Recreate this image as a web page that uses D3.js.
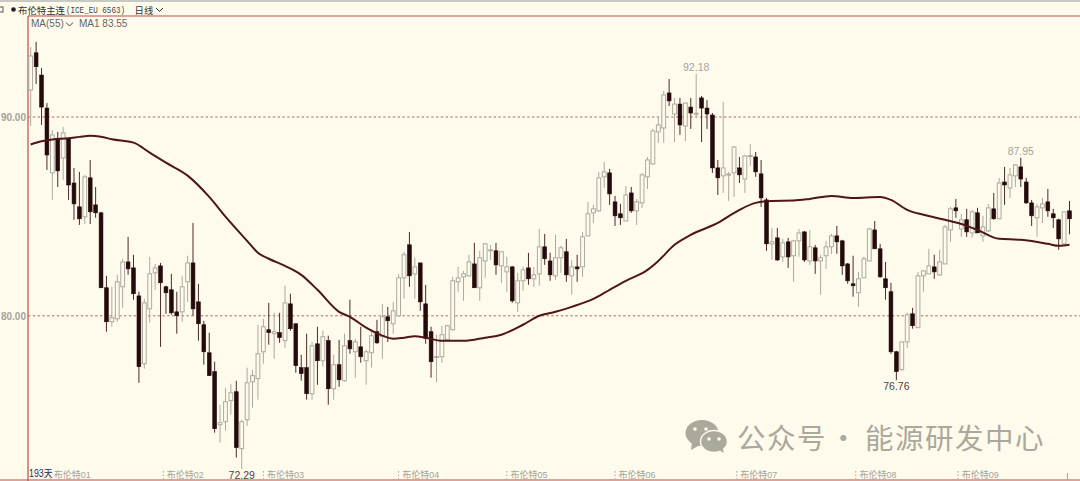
<!DOCTYPE html>
<html><head><meta charset="utf-8">
<script src="https://cdn.jsdelivr.net/npm/d3@7"></script>
<style>html,body{margin:0;padding:0;background:#FFFBEC;overflow:hidden}svg{display:block}
text{font-family:"Liberation Sans","Noto Sans CJK SC",sans-serif}</style></head><body>
<svg id="c" width="1080" height="481"></svg>
<script>
const opens=[91.36,93.23,92.11,90.45,87.19,88.90,87.94,88.90,86.68,85.48,84.98,86.94,85.58,85.18,81.41,79.70,79.85,81.46,82.71,82.41,81.00,77.59,80.35,82.16,82.51,81.46,81.31,80.20,80.20,81.71,82.66,80.70,79.55,78.14,77.19,74.52,74.67,75.73,76.18,73.32,74.77,76.68,76.84,78.19,79.30,79.10,79.15,78.75,80.60,79.60,77.39,77.39,76.08,78.59,77.74,78.75,76.33,77.54,76.73,78.75,78.19,78.44,77.74,78.14,79.20,78.95,79.95,79.60,80.00,81.91,83.57,82.11,82.66,80.60,79.20,77.90,77.94,78.80,79.30,81.71,81.96,82.01,82.61,81.41,82.76,83.28,83.27,82.51,82.21,82.46,80.65,81.76,82.41,81.86,82.11,83.47,82.76,82.01,82.92,83.22,82.01,82.46,82.46,84.02,85.18,85.28,86.99,87.19,85.73,85.13,84.77,86.18,85.28,85.68,86.99,87.64,89.25,89.45,91.21,90.15,90.65,89.55,90.50,90.15,90.96,90.45,90.10,87.44,87.04,87.09,87.19,87.44,86.88,88.02,87.99,87.14,85.83,83.62,83.92,82.96,83.72,83.02,83.77,84.22,82.76,83.42,82.76,83.02,83.47,84.02,83.77,82.61,81.61,81.16,81.91,82.76,84.32,83.37,81.86,81.21,78.19,77.29,78.69,80.10,79.40,82.01,82.11,82.46,82.06,82.61,84.32,85.43,84.37,84.83,84.17,85.18,84.02,84.27,85.38,84.88,86.73,86.43,87.04,87.49,86.73,85.68,84.93,85.43,85.73,85.13,84.83,83.62,85.28];
const highs=[93.52,93.78,92.46,90.70,89.35,89.25,89.50,88.95,87.44,87.24,87.09,87.84,86.48,85.23,82.01,81.46,82.06,82.87,83.97,83.07,81.21,80.86,82.97,82.61,82.66,81.51,82.11,81.21,82.01,83.02,84.67,81.61,79.75,79.15,77.69,75.53,76.38,76.58,76.73,74.77,77.39,77.29,79.55,79.85,80.65,80.15,80.15,81.51,81.11,79.60,78.04,79.10,78.69,79.45,79.25,79.00,78.04,78.79,79.10,80.81,78.85,79.45,78.29,79.25,79.80,80.60,80.45,80.70,82.11,83.22,84.22,82.92,82.66,81.56,79.45,79.05,79.50,79.55,81.96,82.46,82.26,83.07,83.67,83.27,83.67,83.57,83.67,83.22,82.97,82.51,82.16,82.46,83.17,82.46,84.37,84.12,83.17,84.07,83.52,83.87,82.81,83.07,84.22,85.73,85.58,87.24,87.74,87.39,86.03,85.63,86.53,86.48,85.88,87.19,87.99,89.40,90.00,91.31,91.91,90.96,90.96,90.70,90.96,92.18,91.06,90.85,90.20,87.84,90.75,87.24,88.54,87.99,88.09,88.64,88.24,87.84,85.93,84.42,84.42,83.87,83.92,83.82,84.37,84.27,84.32,83.57,83.07,83.77,84.12,84.52,83.82,82.66,83.02,82.21,82.97,84.42,84.77,83.62,82.71,81.66,78.24,78.69,80.15,80.40,82.21,82.31,83.37,83.07,83.32,84.57,85.48,85.88,85.13,85.38,85.33,85.43,85.03,85.63,86.18,86.94,87.49,87.44,87.64,87.95,86.94,85.83,85.63,85.93,86.38,85.38,84.88,85.23,85.78];
const lows=[89.55,91.66,89.60,87.34,85.83,86.48,86.84,85.83,84.83,84.57,84.62,84.62,84.93,81.41,79.20,79.45,79.70,80.40,82.06,80.81,76.63,77.34,79.65,81.31,78.44,80.10,80.05,79.10,79.70,80.70,80.00,78.75,77.54,76.99,74.12,73.62,74.22,75.03,72.87,72.29,74.47,75.38,75.78,77.59,78.55,77.84,78.64,78.39,79.25,77.14,76.74,75.78,75.78,76.53,77.44,75.53,75.78,76.43,76.68,78.09,76.89,77.64,76.53,77.39,78.59,77.84,78.69,79.10,79.95,80.86,81.46,80.86,80.25,78.59,76.89,76.65,77.64,78.75,79.25,81.21,80.75,81.96,81.41,80.75,81.91,82.81,82.06,81.66,81.21,80.65,80.20,81.26,81.56,81.46,81.51,82.56,81.76,81.81,82.16,81.71,81.06,81.71,81.96,84.02,84.67,85.23,86.43,85.58,84.52,84.57,84.77,85.18,84.57,85.43,86.38,87.59,88.70,88.70,90.55,88.74,89.10,88.79,89.40,90.00,88.74,89.40,87.19,86.08,86.18,85.78,85.98,86.68,86.18,87.54,86.99,85.48,83.27,82.81,82.76,82.71,82.41,81.71,82.97,82.71,82.56,82.11,81.06,82.36,83.12,83.12,82.06,81.61,80.96,80.45,81.91,82.76,83.37,81.91,80.81,78.09,76.76,77.24,78.39,79.35,79.40,81.21,82.11,81.86,82.01,82.61,83.72,84.93,83.97,83.97,83.92,84.17,83.72,84.22,84.83,84.88,85.58,85.93,86.48,86.48,85.63,84.52,83.97,84.67,84.98,84.42,83.32,83.57,84.10];
const closes=[93.07,92.53,90.50,88.09,89.10,87.29,89.20,86.58,85.63,84.88,86.99,85.23,85.18,81.41,79.70,79.90,81.71,82.71,82.36,81.11,77.44,80.65,82.11,82.41,81.66,81.16,80.15,80.00,81.46,82.66,80.35,79.60,78.19,76.99,74.32,74.62,75.68,76.13,73.37,74.67,76.63,76.99,78.09,79.45,79.15,79.20,78.90,80.65,79.35,77.49,77.09,76.08,78.49,77.74,78.95,76.33,77.54,76.78,78.49,78.34,78.69,77.94,78.19,79.00,78.64,79.95,79.75,80.25,81.91,83.07,82.01,82.46,80.70,78.85,77.69,77.95,79.05,79.50,81.76,81.91,82.11,82.71,81.41,82.92,83.62,83.32,82.56,83.22,82.46,80.75,81.76,82.31,81.86,82.06,83.47,82.87,82.06,82.92,83.42,82.06,82.46,82.36,83.97,85.13,85.38,86.94,87.24,86.13,85.03,84.93,86.08,85.28,85.73,87.09,87.84,89.30,89.60,91.11,90.81,90.65,89.60,90.70,90.20,90.19,90.45,90.15,87.44,86.94,87.44,87.13,88.49,87.09,88.04,88.06,87.24,85.93,83.62,83.72,82.81,83.67,82.96,83.77,84.17,82.81,83.47,82.76,82.92,83.47,84.02,83.72,82.51,81.76,81.51,81.86,82.87,84.37,83.37,81.96,81.41,78.19,77.19,78.69,80.05,79.50,82.01,82.26,82.51,82.21,82.71,84.47,85.38,85.28,84.83,84.22,85.23,84.17,84.47,85.43,84.88,86.68,86.58,87.09,87.59,86.88,85.68,85.03,85.48,85.63,85.28,84.93,83.87,85.23,84.88];
const maIndex=[0,2,4,7,9,11,13,15,19,22,25,29,33,36,40,42,44,47,50,53,57,59,62,65,67,69,71,73,76,80,84,87,91,94,97,100,104,107,110,114,116,119,122,127,131,134,137,141,144,148,152,157,159,162,165,169,172,175,179,183,188,190,192];
const maValues=[88.62,88.78,88.87,88.93,89.00,89.06,89.01,88.88,88.71,88.21,87.70,87.05,85.98,84.99,83.77,83.17,82.87,82.51,82.06,81.31,80.20,79.95,79.40,79.00,78.85,78.90,78.97,78.90,78.74,78.74,78.90,79.05,79.55,80.00,80.20,80.45,80.85,81.31,81.76,82.31,82.76,83.57,84.07,84.67,85.33,85.68,85.78,85.80,85.88,86.03,85.93,85.98,85.83,85.33,85.08,84.83,84.62,84.32,83.87,83.82,83.62,83.52,83.57];
const priceTicks=[90,80];
const monthIndex=[3.6,24.5,43,68,88,108,130.5,152.5,171.4];
const monthLabels=["布伦特01","布伦特02","布伦特03","布伦特04","布伦特05","布伦特06","布伦特07","布伦特08","布伦特09"];
const extremaIndex=[39,123,160,183];
const extremaValues=[72.29,92.18,76.76,87.95];
const extremaUp=[false,true,false,true];
const extremaDark=[true,false,true,false];
const titleMain="布伦特主连";
const titleCode="(ICE_EU 6563)";
const titlePeriod="日线";
const maLabel="MA(55)";
const maValueLabel="MA1 83.55";
const countLabel="193天";
const watermarkParts=["公众号","·","能源研发中心"];

const svg=d3.select("#c");
const W=1080,H=481,plotL=28,plotT=16,plotB=480;
const x=d3.scaleLinear().domain([0,192]).range([30.7,1069.5]);
const y=d3.scaleLinear().domain([80,90]).range([315.8,117]);
const UP="#ABA99F",DOWN="#240A0A",RED="#BC4D44",BG="#FFFBEC";
svg.append("rect").attr("width",W).attr("height",H).attr("fill",BG);
svg.append("rect").attr("width",W).attr("height",2).attr("fill","#C9C9C4");

// grid
svg.append("g").selectAll("line").data(priceTicks).join("line")
 .attr("x1",plotL).attr("x2",W).attr("y1",d=>y(d)).attr("y2",d=>y(d))
 .attr("stroke","#B5645A").attr("stroke-width",1).attr("stroke-dasharray","2.4 2.4");

// y axis
const ya=svg.append("g").attr("transform",`translate(${plotL},0)`)
 .call(d3.axisLeft(y).tickValues(priceTicks).tickFormat(d3.format(".2f")).tickSize(0).tickPadding(2));
ya.select(".domain").remove();
ya.selectAll("text").attr("fill","#A3A39E").attr("font-size",10).attr("font-weight","bold").style("font-family","'Liberation Sans',sans-serif");

// frame
const frame=svg.append("g").attr("stroke",RED).attr("stroke-width",1.2);
frame.append("line").attr("x1",plotL).attr("x2",W).attr("y1",plotT).attr("y2",plotT);
frame.append("line").attr("x1",plotL).attr("x2",plotL).attr("y1",plotT).attr("y2",H);
frame.append("line").attr("x1",0).attr("x2",W).attr("y1",plotB).attr("y2",plotB);

// candles
const candles=svg.append("g").selectAll("g").data(d3.range(opens.length)).join("g");
const isUp=i=>closes[i]>=opens[i];
candles.append("line").attr("x1",i=>x(i)).attr("x2",i=>x(i)).attr("y1",i=>y(highs[i])).attr("y2",i=>y(lows[i]))
 .attr("stroke",i=>isUp(i)?UP:"#4A2A28").attr("stroke-width",1);
candles.append("rect").attr("x",i=>x(i)-1.9).attr("width",3.8)
 .attr("y",i=>y(Math.max(opens[i],closes[i])))
 .attr("height",i=>Math.max(1,Math.abs(y(opens[i])-y(closes[i]))))
 .attr("fill",i=>isUp(i)?BG:DOWN).attr("stroke",i=>isUp(i)?UP:DOWN).attr("stroke-width",i=>isUp(i)?1:0.6);

// MA line
svg.append("path").attr("d",d3.line().x(d=>x(d)).y((d,i)=>y(maValues[i])).curve(d3.curveMonotoneX)(maIndex))
 .attr("fill","none").attr("stroke","#4E1616").attr("stroke-width",2);

// month ticks
const mt=svg.append("g").selectAll("g").data(monthIndex).join("g").attr("transform",d=>`translate(${x(d)},0)`);
mt.append("line").attr("y1",471).attr("y2",479).attr("stroke","#A5A5A0").attr("stroke-dasharray","1.6 2");
mt.append("text").attr("x",3.6).attr("y",478).text((d,i)=>monthLabels[i]).attr("font-size",9).attr("fill","#A3A39E");
svg.append("line").attr("x1",1067.5).attr("x2",1067.5).attr("y1",473).attr("y2",480).attr("stroke","#A5A5A0");

// extrema labels
svg.append("g").selectAll("text").data(extremaIndex).join("text")
 .attr("x",d=>x(d)).attr("text-anchor","middle")
 .attr("y",(d,i)=>extremaUp[i]?y(extremaValues[i])-3:(extremaValues[i]<75?479:y(extremaValues[i])+9.5))
 .attr("font-size",10.5).attr("fill",(d,i)=>extremaDark[i]?"#4A4643":"#A3A39E")
 .text((d,i)=>d3.format(".2f")(extremaValues[i]));

// header
const hd=svg.append("g");
hd.append("rect").attr("x",-3).attr("y",7).attr("width",6).attr("height",5).attr("fill","none").attr("stroke","#555");
hd.append("circle").attr("cx",13.5).attr("cy",9.5).attr("r",2.3).attr("fill","#222");
hd.append("text").attr("x",18).attr("y",13.5).text(titleMain).attr("font-size",9.4).attr("fill","#333");
hd.append("text").attr("x",66).attr("y",13).text(titleCode).attr("font-size",8.4).attr("fill","#444").attr("textLength",59).attr("lengthAdjust","spacingAndGlyphs").style("font-family","'Liberation Mono',monospace");
hd.append("text").attr("x",134.5).attr("y",13.5).text(titlePeriod).attr("font-size",9.4).attr("fill","#333");
hd.append("path").attr("d","M156,8 L159.5,11.5 L163,8").attr("fill","none").attr("stroke","#333").attr("stroke-width",1);
hd.append("text").attr("x",31).attr("y",27).text(maLabel).attr("font-size",10).attr("fill","#666");
hd.append("path").attr("d","M66,22.5 L69.5,26 L73,22.5").attr("fill","none").attr("stroke","#444").attr("stroke-width",1);
hd.append("text").attr("x",79).attr("y",27).text(maValueLabel).attr("font-size",10).attr("fill","#666");
svg.append("text").attr("x",29).attr("y",477).text(countLabel).attr("font-size",10).attr("fill","#28285A").attr("textLength",23.5).attr("lengthAdjust","spacingAndGlyphs");

// watermark
const wm=svg.append("g").attr("fill","#AAA99C");
wm.append("ellipse").attr("cx",702).attr("cy",433).attr("rx",16.5).attr("ry",13);
wm.append("path").attr("d","M692,442 L691,450 L700,445 Z");
wm.append("ellipse").attr("cx",714).attr("cy",441.5).attr("rx",13.5).attr("ry",11).attr("stroke",BG).attr("stroke-width",1.5);
wm.append("path").attr("d","M719,450 L724,453 L722,446 Z");
[[695,429],[706,429],[709,439],[719,439]].forEach(p=>wm.append("circle").attr("cx",p[0]).attr("cy",p[1]).attr("r",1.8).attr("fill",BG));
const wmX=[737,829,865],wmS=[1.5,0,1.5];
svg.append("g").selectAll("text").data(watermarkParts).join("text")
 .attr("x",(d,i)=>wmX[i]).attr("y",449).text(d=>d).attr("font-size",28.5).attr("fill","#AAA99C")
 .attr("letter-spacing",(d,i)=>wmS[i]).style("font-family","'Noto Sans CJK SC'");
</script></body></html>
